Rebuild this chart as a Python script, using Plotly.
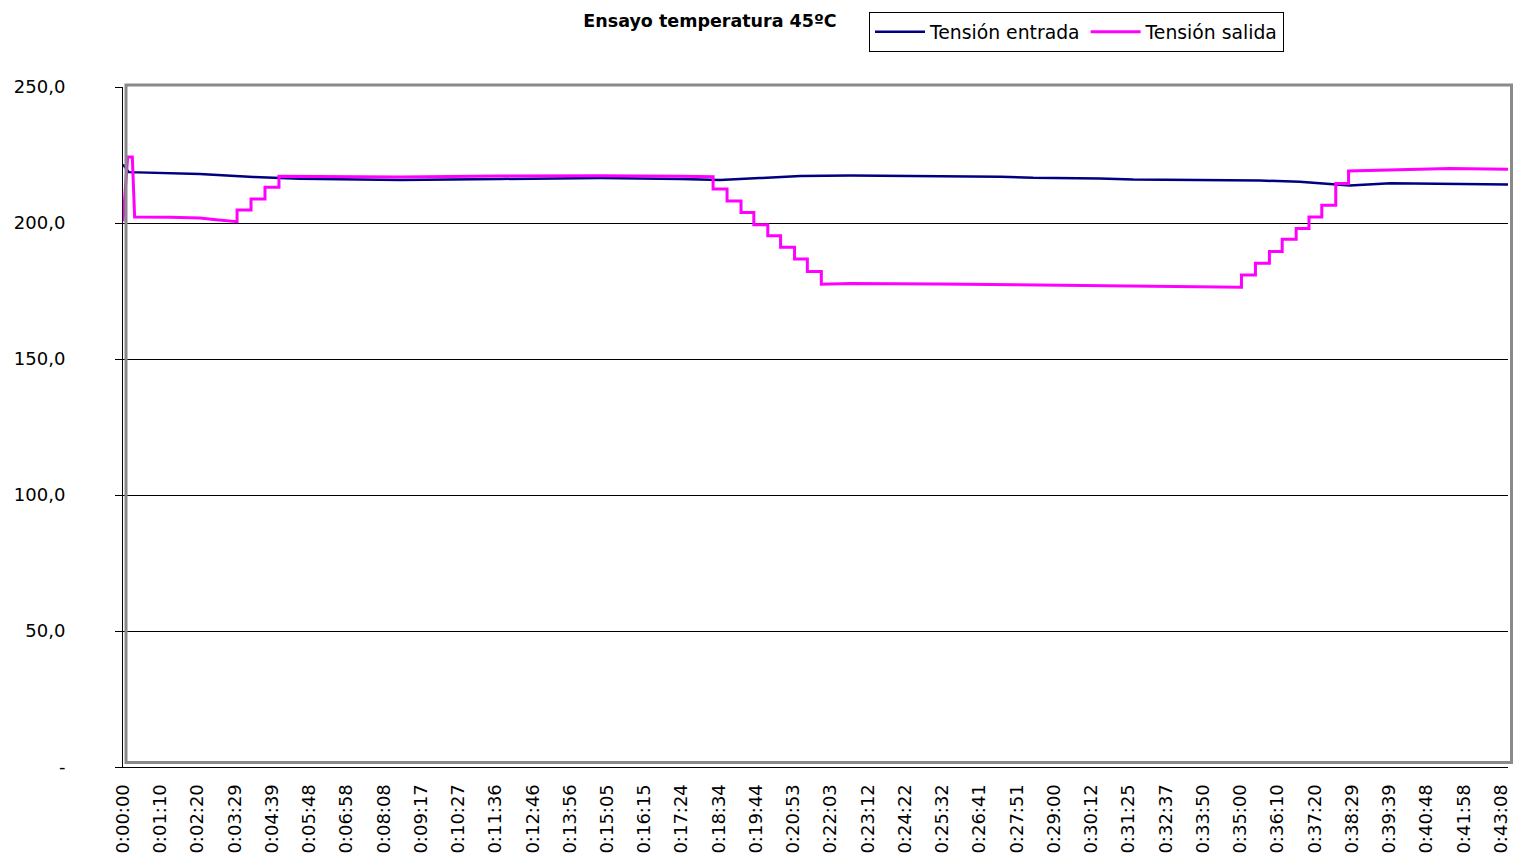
import plotly.graph_objects as go

# Category axis: one sample per category, a tick mark every 31 samples
# and a time label every 32 samples.
SAMPLES_PER_TICK = 31
SAMPLES_PER_LABEL = 32
N_SAMPLES = 1190

time_labels = [
    "0:00:00", "0:01:10", "0:02:20", "0:03:29", "0:04:39", "0:05:48",
    "0:06:58", "0:08:08", "0:09:17", "0:10:27", "0:11:36", "0:12:46",
    "0:13:56", "0:15:05", "0:16:15", "0:17:24", "0:18:34", "0:19:44",
    "0:20:53", "0:22:03", "0:23:12", "0:24:22", "0:25:32", "0:26:41",
    "0:27:51", "0:29:00", "0:30:12", "0:31:25", "0:32:37", "0:33:50",
    "0:35:00", "0:36:10", "0:37:20", "0:38:29", "0:39:39", "0:40:48",
    "0:41:58", "0:43:08",
]

# Tensión entrada (V) by sample index
entrada_idx = [0, 5, 66, 112, 152, 238, 324, 410, 479, 513, 547, 582, 625,
               668, 711, 754, 782, 839, 868, 925, 977, 1011, 1046, 1054,
               1089, 1140, 1190]
entrada_v = [221.5, 218.7, 218.0, 216.9, 216.3, 215.8, 216.2, 216.5, 216.2,
             215.8, 216.5, 217.3, 217.5, 217.4, 217.3, 217.0, 216.6, 216.4,
             216.0, 215.8, 215.6, 215.2, 213.9, 213.8, 214.6, 214.5, 214.2]

# Tensión salida (V) by sample index; the regulator moves in discrete steps
salida_idx = [0, 4, 8, 10, 40, 66, 80, 98, 98, 110, 110, 122, 122, 134, 134,
              238, 324, 410, 479, 507, 507, 519, 519, 531, 531, 542, 542,
              554, 554, 565, 565, 577, 577, 588, 588, 600, 600, 625, 700,
              782, 870, 940, 961, 961, 973, 973, 985, 985, 996, 996, 1008,
              1008, 1019, 1019, 1030, 1030, 1042, 1042, 1053, 1053, 1089,
              1140, 1190]
salida_v = [200.6, 224.3, 224.3, 202.2, 202.1, 201.8, 201.2, 200.5, 204.8,
            204.8, 208.8, 208.8, 213.1, 213.1, 217.2, 216.9, 217.3, 217.4,
            217.2, 217.0, 212.5, 212.5, 208.1, 208.1, 203.9, 203.9, 199.4,
            199.4, 195.3, 195.3, 191.1, 191.1, 186.8, 186.8, 182.2, 182.2,
            177.5, 177.8, 177.6, 177.2, 176.8, 176.5, 176.4, 180.9, 180.9,
            185.2, 185.2, 189.5, 189.5, 194.0, 194.0, 198.0, 198.0, 202.2,
            202.2, 206.5, 206.5, 214.5, 214.5, 219.1, 219.5, 220.0, 219.8]

y_tickvals = [0, 50, 100, 150, 200, 250]
y_ticktext = ["-", "50,0", "100,0", "150,0", "200,0", "250,0"]

FONT = "DejaVu Sans"

fig = go.Figure()
fig.add_trace(go.Scatter(
    x=entrada_idx, y=entrada_v, mode="lines", name="Tensión entrada",
    line=dict(color="#000080", width=2.5),
))
fig.add_trace(go.Scatter(
    x=salida_idx, y=salida_v, mode="lines", name="Tensión salida",
    line=dict(color="#FF00FF", width=3),
))

label_pos = [i * SAMPLES_PER_LABEL for i in range(len(time_labels))]
tick_pos = [i * SAMPLES_PER_TICK for i in range(N_SAMPLES // SAMPLES_PER_TICK + 1)]

fig.update_layout(
    width=1518, height=855,
    margin=dict(l=123, r=10, t=87, b=88, autoexpand=False),
    paper_bgcolor="white", plot_bgcolor="white",
    font=dict(family=FONT, size=18, color="black"),
    title=dict(
        text="<b>Ensayo temperatura 45ºC</b>",
        font=dict(family=FONT, size=17.5, color="black"),
        x=710 / 1518, xanchor="center", xref="container",
        y=1 - 21 / 855, yanchor="middle", yref="container",
    ),
    showlegend=True,
    legend=dict(
        orientation="h",
        x=(869 - 123) / 1385, xanchor="left",
        y=(767 - 12) / 680, yanchor="top",
        bordercolor="black", borderwidth=1, bgcolor="white",
        font=dict(family=FONT, size=18.8, color="black"),
        itemwidth=50,
    ),
    xaxis=dict(
        range=[0, N_SAMPLES], automargin=False,
        tickmode="array", tickvals=label_pos, ticktext=time_labels,
        tickangle=-90, ticks="", showgrid=False, zeroline=False,
        showline=True, linecolor="black", linewidth=1,
        tickfont=dict(family=FONT, size=18, color="black"),
        ticklabelstandoff=9,
    ),
    xaxis2=dict(
        range=[0, N_SAMPLES], overlaying="x", anchor="y", side="bottom",
        automargin=False,
        tickmode="array", tickvals=tick_pos, showticklabels=False,
        ticks="outside", ticklen=7, tickcolor="black", tickwidth=1,
        showgrid=False, zeroline=False,
        showline=True, linecolor="black", linewidth=1,
    ),
    yaxis=dict(
        range=[0, 250], automargin=False,
        tickmode="array", tickvals=y_tickvals, ticktext=y_ticktext,
        ticks="outside", ticklen=7, tickcolor="black",
        showgrid=True, gridcolor="black", gridwidth=1, zeroline=False,
        showline=True, linecolor="black", linewidth=1,
        tickfont=dict(family=FONT, size=18, color="black"),
        ticklabelstandoff=46,
    ),
)

# Grey border of the plot area
fig.add_shape(
    type="rect", xref="paper", yref="paper",
    x0=(126 - 123) / 1385, x1=(1511.5 - 123) / 1385,
    y0=(767 - 762.5) / 680, y1=(767 - 85) / 680,
    line=dict(color="#8a8a8a", width=3), fillcolor="rgba(0,0,0,0)",
    layer="above",
)

fig.write_html("out.html")
